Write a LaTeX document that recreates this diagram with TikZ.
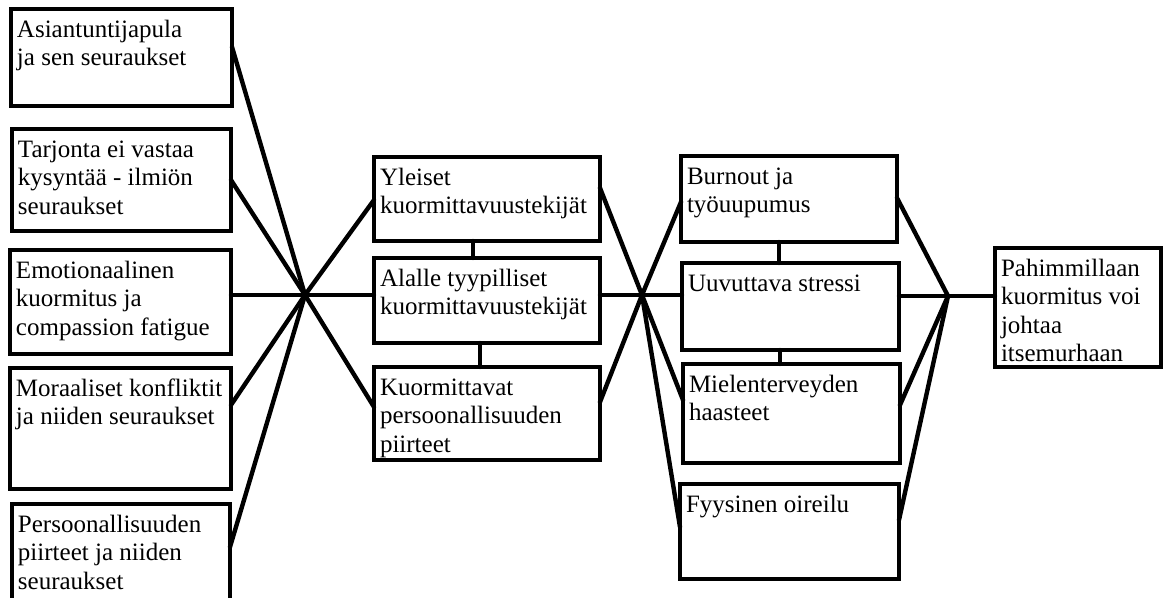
\documentclass[tikz,border=0pt]{standalone}
\usepackage{fontspec}
\setmainfont{Liberation Serif}
\newlength\pxu \setlength\pxu{.5pt}
\newcommand\boxtext[3]{\parbox[t][\dimexpr#2\pxu-16\pxu\relax][t]{\dimexpr#1\pxu-12\pxu\relax}{\strut#3}}
\begin{document}
\begin{tikzpicture}[
 x=.5pt,y=-.5pt,
 box/.style={draw,line width=2.4pt,anchor=north west,inner xsep=3pt,inner ysep=4pt,outer sep=0pt,
  font=\fontsize{12.5}{14.3}\selectfont},
 link/.style={line width=2.2pt,line cap=round}]
 \useasboundingbox (0,0) rectangle (1163,598);
 \clip (0,0) rectangle (1163,598);
 % left column
 \node[box] (expert) at (11,9) {\boxtext{221}{97}{Asiantuntijapula\\ja sen seuraukset}};
 \node[box] (supply) at (12,129) {\boxtext{219}{102}{Tarjonta ei vastaa\\kysyntää - ilmiön\\seuraukset}};
 \node[box] (emotion) at (10,250) {\boxtext{221}{104}{Emotionaalinen\\kuormitus ja\\compassion fatigue}};
 \node[box] (moral) at (10,368) {\boxtext{221}{121}{Moraaliset konfliktit\\ja niiden seuraukset}};
 \node[box] (persona) at (12,504) {\boxtext{218}{110}{Persoonallisuuden\\piirteet ja niiden\\seuraukset}};
 % middle column
 \node[box] (general) at (374,157) {\boxtext{226}{84}{Yleiset\\kuormittavuustekijät}};
 \node[box] (typical) at (374,258) {\boxtext{226}{85}{Alalle tyypilliset\\kuormittavuustekijät}};
 \node[box] (traits) at (374,367) {\boxtext{226}{93}{Kuormittavat\\persoonallisuuden\\piirteet}};
 % right column and outcome
 \node[box] (burnout) at (681,156) {\boxtext{216}{86}{Burnout ja\\työuupumus}};
 \node[box] (stress) at (682,263) {\boxtext{217}{87}{Uuvuttava stressi}};
 \node[box] (mental) at (683,364) {\boxtext{217}{99}{Mielenterveyden\\haasteet}};
 \node[box] (physical) at (680,484) {\boxtext{219}{95}{Fyysinen oireilu}};
 \node[box] (suicide) at (995,248) {\boxtext{166}{119}{Pahimmillaan\\kuormitus voi\\johtaa\\itsemurhaan}};
 % junctions
 \coordinate (j1) at (305,295);
 \coordinate (j2) at (642,295);
 \coordinate (j3) at (948,296);
 % fans
 \foreach \n/\s in {expert/19,supply/25.5,moral/18.5,persona/21.5}
  \draw[link] ([yshift=-\s pt]\n.north east) -- (j1);
 \foreach \n/\s in {general/21.5,traits/20}
  \draw[link] (j1) -- ([yshift=-\s pt]\n.north west);
 \foreach \n/\s in {general/15.5,traits/17.5}
  \draw[link] ([yshift=-\s pt]\n.north east) -- (j2);
 \foreach \n/\s in {burnout/23,mental/18,physical/21.5}
  \draw[link] (j2) -- ([yshift=-\s pt]\n.north west);
 \foreach \n/\s in {burnout/21,mental/20.5,physical/18}
  \draw[link] ([yshift=-\s pt]\n.north east) -- (j3);
 % straight through the middle row
 \draw[link] (emotion.east |- j1) -- (j1) -- (typical.west |- j1);
 \draw[link] (typical.east |- j2) -- (j2) -- (stress.west |- j2);
 \draw[link] (stress.east |- j3) -- (j3) -- (suicide.west |- j3);
 % short ties inside the columns
 \draw[link] ([xshift=49.5pt]general.south west) -- ([xshift=49.5pt]typical.north west);
 \draw[link] ([xshift=53pt]typical.south west) -- ([xshift=53pt]traits.north west);
 \draw[link] ([xshift=49pt]burnout.south west) -- ([xshift=48.5pt]stress.north west);
 \draw[link] ([xshift=49pt]stress.south west) -- ([xshift=48.5pt]mental.north west);
\end{tikzpicture}
\end{document}
